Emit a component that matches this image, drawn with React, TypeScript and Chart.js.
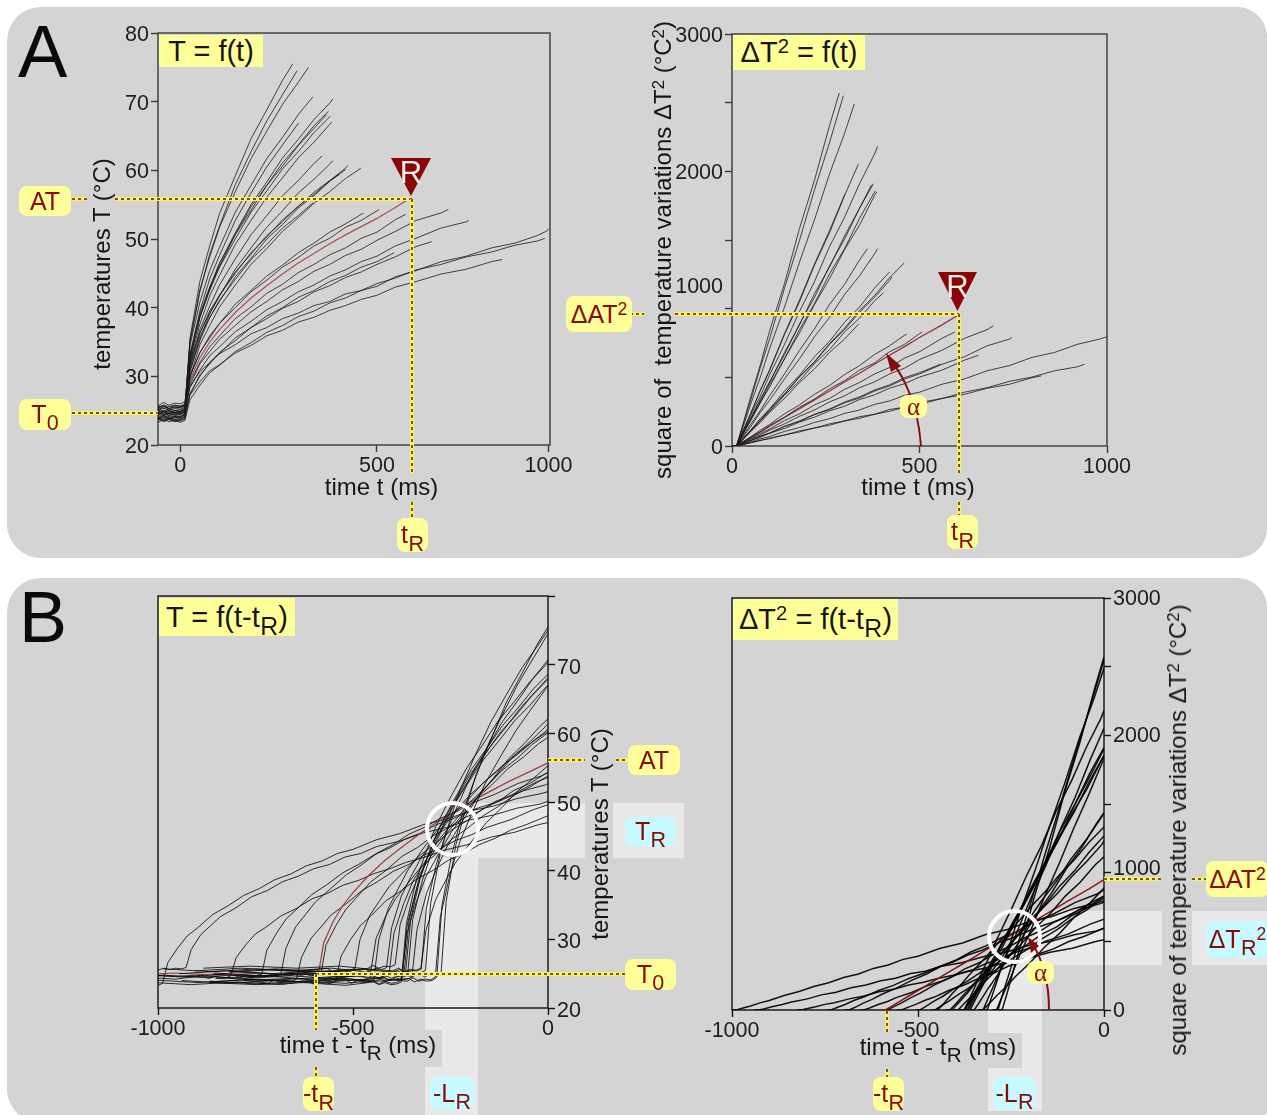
import React, { useEffect, useRef } from "react";
import { Chart, registerables, LinearScale } from "chart.js";

// ---- values ----
const timeGridMs = [0, 12, 25, 50, 75, 100, 140, 180, 220, 260, 300, 340, 380, 420, 460, 500, 560, 620, 680, 740, 800, 860, 920, 980];
const endTimesMs = [286, 297, 326, 337, 388, 301, 377, 372, 381, 386, 361, 388, 426, 420, 459, 404, 338, 466, 507, 600, 594, 697, 746, 657, 556, 1000, 940, 825];
const redCurveIndex = 19;

const curve01 = [24.8, 25.2, 35.6, 43.8, 49.0, 53.7, 59.2, 64.6, 68.8, 73.1, 75.5];
const curve02 = [24.0, 24.5, 34.9, 42.3, 47.8, 51.9, 57.9, 62.7, 67.2, 71.0, 74.5];
const curve03 = [25.1, 25.5, 35.2, 42.6, 47.4, 51.7, 56.9, 61.7, 65.7, 69.6, 72.8, 75.0];
const curve04 = [25.4, 25.7, 34.5, 40.8, 45.4, 48.8, 53.9, 57.8, 61.7, 64.8, 68.1, 70.7];
const curve05 = [23.7, 24.1, 32.3, 38.6, 42.7, 46.4, 50.9, 55.0, 58.3, 61.8, 64.5, 67.4, 69.8, 70.4];
const curve06 = [24.1, 24.5, 33.3, 39.5, 44.2, 47.6, 52.7, 56.7, 60.5, 63.7, 66.9];
const curve07 = [24.9, 25.3, 33.0, 39.1, 43.0, 46.5, 50.7, 54.7, 57.8, 61.1, 63.7, 66.5, 68.6];
const curve08 = [24.5, 24.8, 32.9, 38.6, 42.9, 46.0, 50.6, 54.2, 57.8, 60.6, 63.6, 66.1, 68.1];
const curve09 = [24.8, 25.1, 32.8, 38.7, 42.5, 45.9, 50.0, 53.9, 57.0, 60.2, 62.7, 65.5, 67.8, 67.9];
const curve10 = [24.0, 24.4, 32.1, 37.6, 41.7, 44.7, 49.2, 52.7, 56.1, 58.9, 61.8, 64.1, 66.7, 67.0];
const curve11 = [24.2, 24.5, 31.4, 36.8, 40.2, 43.3, 47.1, 50.6, 53.4, 56.3, 58.5, 61.0, 62.1];
const curve12 = [23.5, 23.8, 30.6, 35.4, 39.1, 41.7, 45.6, 48.7, 51.7, 54.1, 56.7, 58.7, 60.9, 61.4];
const curve13 = [25.6, 25.9, 31.7, 36.3, 39.2, 41.8, 45.0, 48.0, 50.3, 52.8, 54.7, 56.8, 58.5, 60.3, 60.7];
const curve14 = [24.5, 24.8, 30.9, 35.2, 38.6, 40.9, 44.5, 47.2, 50.0, 52.1, 54.5, 56.3, 58.4, 60.1];
const curve15 = [23.8, 24.1, 29.9, 34.6, 37.4, 40.1, 43.3, 46.3, 48.6, 51.1, 53.1, 55.2, 56.9, 58.8, 60.3];
const curve16 = [26.0, 26.3, 32.2, 36.3, 39.5, 41.8, 45.2, 47.8, 50.5, 52.5, 54.8, 56.5, 58.5, 59.4];
const curve17 = [25.5, 25.8, 31.3, 35.8, 38.5, 41.1, 44.1, 47.0, 49.2, 51.6, 53.4, 55.3];
const curve18 = [25.2, 25.5, 30.1, 33.4, 35.9, 37.7, 40.5, 42.5, 44.6, 46.2, 48.0, 49.4, 51.0, 52.2, 53.6, 53.7];
const curve19 = [25.5, 25.8, 30.0, 33.5, 35.6, 37.7, 40.0, 42.3, 44.0, 45.9, 47.3, 49.0, 50.1, 51.7, 52.7, 54.1, 54.3];
const curve20 = [24.9, 25.2, 29.5, 32.7, 35.0, 36.8, 39.3, 41.4, 43.2, 44.9, 46.5, 47.9, 49.3, 50.6, 51.8, 53.0, 54.6, 55.7];
const curve21 = [24.8, 25.1, 29.2, 32.0, 34.3, 35.9, 38.4, 40.1, 42.1, 43.4, 45.1, 46.3, 47.7, 48.7, 50.1, 51.0, 52.8, 53.6];
const curve22 = [24.7, 25.0, 28.7, 31.8, 33.6, 35.4, 37.4, 39.4, 40.9, 42.6, 43.8, 45.3, 46.3, 47.6, 48.5, 49.8, 51.1, 52.7, 53.8, 54.3];
const curve23 = [24.6, 24.9, 28.4, 30.9, 33.0, 34.3, 36.5, 38.0, 39.7, 40.9, 42.3, 43.3, 44.6, 45.5, 46.7, 47.5, 49.0, 50.1, 51.6, 52.5, 52.7];
const curve24 = [23.9, 24.2, 27.4, 30.2, 31.8, 33.5, 35.2, 37.1, 38.4, 39.9, 40.9, 42.3, 43.2, 44.4, 45.2, 46.3, 47.4, 48.9, 49.6];
const curve25 = [23.6, 23.9, 27.5, 30.0, 32.0, 33.3, 35.6, 37.1, 38.8, 40.0, 41.5, 42.5, 43.8, 44.7, 45.9, 46.7, 48.0];
const curve26 = [23.3, 23.6, 26.6, 28.7, 30.5, 31.6, 33.6, 34.9, 36.4, 37.4, 38.7, 39.5, 40.7, 41.4, 42.5, 43.1, 44.5, 45.4, 46.7, 47.5, 48.7, 49.4, 50.5, 51.2, 51.5];
const curve27 = [25.7, 25.9, 28.5, 30.7, 32.0, 33.3, 34.6, 36.2, 37.1, 38.4, 39.2, 40.3, 40.9, 42.0, 42.5, 43.5, 44.3, 45.5, 46.3, 47.4, 48.1, 49.1, 49.7, 50.1];
const curve28 = [24.4, 24.7, 27.3, 29.2, 30.8, 31.7, 33.4, 34.5, 35.9, 36.7, 37.9, 38.6, 39.6, 40.3, 41.2, 41.8, 43.0, 43.8, 44.9, 45.6, 46.7, 47.0];
const allTemps = [curve01, curve02, curve03, curve04, curve05, curve06, curve07, curve08, curve09, curve10, curve11, curve12, curve13, curve14, curve15, curve16, curve17, curve18, curve19, curve20, curve21, curve22, curve23, curve24, curve25, curve26, curve27, curve28];

// temperature before the stimulus, one row per curve
const preTimesMs = [-480, -360, -240, -130, -60, -45, -30, -15];
const preTemps = [
  [24.6, 25.0, 24.5, 25.1, 24.6, 25.1, 24.5, 25.0],
  [24.2, 23.8, 24.3, 23.9, 24.3, 23.8, 24.2, 23.9],
  [25.3, 24.9, 25.4, 25.0, 25.4, 24.9, 25.3, 25.0],
  [25.2, 25.6, 25.2, 25.7, 25.1, 25.6, 25.2, 25.5],
  [23.9, 23.5, 23.9, 23.6, 24.0, 23.5, 23.9, 23.6],
  [24.0, 24.3, 23.9, 24.3, 23.9, 24.4, 23.9, 24.2],
  [25.1, 24.7, 25.1, 24.6, 25.2, 24.7, 25.1, 24.7],
  [24.3, 24.7, 24.2, 24.7, 24.3, 24.8, 24.3, 24.6],
  [24.9, 24.6, 25.0, 24.6, 25.1, 24.6, 25.0, 24.7],
  [23.8, 24.2, 23.8, 24.3, 23.8, 24.2, 23.9, 24.2],
  [24.4, 24.0, 24.4, 24.0, 24.5, 24.0, 24.4, 24.1],
  [23.7, 23.4, 23.7, 23.3, 23.8, 23.4, 23.7, 23.4],
  [25.4, 25.8, 25.4, 25.8, 25.4, 25.7, 25.3, 25.8],
  [24.7, 24.3, 24.7, 24.3, 24.8, 24.3, 24.7, 24.4],
  [24.0, 23.6, 24.0, 23.7, 24.1, 23.6, 24.0, 23.7],
  [25.8, 26.1, 25.8, 26.1, 25.7, 26.2, 25.8, 26.1],
  [25.3, 25.7, 25.3, 25.7, 25.4, 25.8, 25.3, 25.6],
  [25.0, 25.4, 25.0, 25.4, 25.1, 25.4, 25.0, 25.3],
  [25.7, 25.3, 25.7, 25.3, 25.8, 25.3, 25.6, 25.4],
  [24.7, 25.1, 24.8, 25.1, 24.7, 25.0, 24.8, 25.0],
  [25.0, 24.6, 25.0, 24.6, 25.1, 24.6, 25.0, 24.7],
  [24.5, 24.9, 24.5, 24.9, 24.4, 24.9, 24.5, 24.8],
  [24.8, 24.4, 24.8, 24.4, 24.9, 24.4, 24.8, 24.5],
  [23.7, 24.1, 23.7, 24.1, 23.6, 24.1, 23.7, 24.0],
  [23.8, 23.4, 23.8, 23.4, 23.9, 23.5, 23.8, 23.5],
  [23.5, 23.7, 23.3, 23.6, 23.3, 23.7, 23.4, 23.6],
  [25.5, 25.9, 25.5, 25.9, 25.5, 25.8, 25.6, 25.8],
  [24.6, 24.2, 24.6, 24.2, 24.7, 24.3, 24.6, 24.3],
];

const tempTicks = [20, 30, 40, 50, 60, 70, 80];
const squareTicks = [0, 500, 1000, 1500, 2000, 2500, 3000];
const timeTicksAbs = [0, 500, 1000];
const timeTicksRel = [-1000, -500, 0];
const hiddenLabels = [80];

// the time axis of the first plot is not regular in the reference: tick 500 sits right of the middle
const bentFromMs = [0, 500, 600, 825, 940, 1000];
const bentToMs = [0, 532, 615, 870, 986, 996];

class BentTimeScale extends LinearScale {
  static id = "bentTime";
  static defaults = LinearScale.defaults;
  getPixelForValue(v: number) {
    let w = v;
    for (let i = 1; i < bentFromMs.length; i++) {
      if (v >= bentFromMs[i - 1] && v <= bentFromMs[i]) {
        const f = (v - bentFromMs[i - 1]) / (bentFromMs[i] - bentFromMs[i - 1]);
        w = bentToMs[i - 1] + f * (bentToMs[i] - bentToMs[i - 1]);
      }
    }
    return super.getPixelForValue(w);
  }
}

// y axis whose tick texts sit a little off their tick marks, as in the reference
class OffsetLabelScale extends LinearScale {
  static id = "offsetLabel";
  static defaults = LinearScale.defaults;
  _computeLabelItems(area: any) {
    const items = super._computeLabelItems(area);
    const o: any = this.options;
    items.forEach((it: any) => {
      it.textOffset += o.labelShift || 0;
      if (it.label === "1000") it.textOffset += o.thousandShift || 0;
    });
    return items;
  }
}
Chart.register(...registerables, BentTimeScale, OffsetLabelScale);

const FONT = '"Liberation Sans", Arial, sans-serif';
const DARKRED = "#860b0b";
const YELLOW = "#ffff99";
const CYAN = "#c8fbff";
const PANEL = "#d4d4d4";
const BAND = "#e9e9e9";

// the two measured quantities of one curve
function samples(i: number) {
  const temps = allTemps[i];
  return temps.map((T, k) => ({ t: k === temps.length - 1 ? endTimesMs[i] : timeGridMs[k], T }));
}
function before(i: number) {
  return preTimesMs.map((t, k) => ({ t, T: preTemps[i][k] }));
}
const seriesA1 = allTemps.map((_, i) => [...before(i), ...samples(i)].map((p) => ({ x: p.t, y: p.T })));
const seriesA2 = allTemps.map((_, i) => samples(i).map((p) => ({ x: p.t, y: (p.T - allTemps[i][0]) ** 2 })));
const seriesB1 = allTemps.map((_, i) => [...before(i), ...samples(i)].map((p) => ({ x: p.t - endTimesMs[i], y: p.T })));
const seriesB2 = allTemps.map((_, i) => samples(i).map((p) => ({ x: p.t - endTimesMs[i], y: (p.T - allTemps[i][0]) ** 2 })));

const framePlugin = {
  id: "frame",
  beforeDatasetsDraw(chart: any, _a: any, opts: any) {
    const { left, top, width, height } = chart.chartArea;
    const c = chart.ctx;
    c.save();
    c.strokeStyle = opts.color;
    c.lineWidth = opts.width;
    c.strokeRect(left, top, width, height);
    c.restore();
  },
};

type PlotDef = {
  key: string; left: number; right: number; top: number; bottom: number; yRight: boolean;
  series: { x: number; y: number }[][]; xType: string; xMin: number; xMax: number; xTicks: number[];
  yMin: number; yMax: number; yTicks: number[]; yMajor: number; line: string; red: string; lineW: number; frame: string;
  labelShift: number; thousandShift: number;
};

const plots: PlotDef[] = [
  { key: "a1", left: 158, right: 550, top: 33, bottom: 445, yRight: false, series: seriesA1, xType: "bentTime", xMin: -60, xMax: 1000, xTicks: timeTicksAbs, yMin: 20, yMax: 80, yTicks: tempTicks, yMajor: 10, line: "rgba(25,25,25,0.8)", red: "#a05252", lineW: 1, frame: "#3a3a3a", labelShift: 2, thousandShift: 0 },
  { key: "a2", left: 732, right: 1107, top: 34, bottom: 446, yRight: false, series: seriesA2, xType: "linear", xMin: 0, xMax: 1000, xTicks: timeTicksAbs, yMin: 0, yMax: 3000, yTicks: squareTicks, yMajor: 1000, line: "rgba(25,25,25,0.8)", red: "#963030", lineW: 1, frame: "#3a3a3a", labelShift: 2, thousandShift: -24 },
  { key: "b1", left: 158, right: 548, top: 596, bottom: 1008, yRight: true, series: seriesB1, xType: "linear", xMin: -1000, xMax: 0, xTicks: timeTicksRel, yMin: 20, yMax: 80, yTicks: tempTicks, yMajor: 10, line: "rgba(10,10,10,0.85)", red: "#984040", lineW: 1, frame: "#111", labelShift: 3, thousandShift: 0 },
  { key: "b2", left: 732, right: 1104, top: 598, bottom: 1010, yRight: true, series: seriesB2, xType: "linear", xMin: -1000, xMax: 0, xTicks: timeTicksRel, yMin: 0, yMax: 3000, yTicks: squareTicks, yMajor: 1000, line: "rgba(0,0,0,0.92)", red: "#8b1414", lineW: 1.5, frame: "#111", labelShift: 1, thousandShift: -5 },
];

const PAD_AXIS = 75;
const PAD_OTHER = 45;
const PAD_TOP = 16;
const PAD_BOTTOM = 50;

function buildChart(canvas: HTMLCanvasElement, p: PlotDef) {
  const tickFont = { family: FONT, size: 21.5 };
  const setTicks = (vals: number[]) => (s: any) => {
    s.ticks = vals.map((value) => ({ value }));
  };
  return new Chart(canvas, {
    type: "line",
    data: {
      datasets: p.series.map((data, i) => ({
        data,
        parsing: false,
        borderColor: i === redCurveIndex ? p.red : p.line,
        borderWidth: i === redCurveIndex ? Math.max(p.lineW, 1.2) : p.lineW,
        pointRadius: 0,
        tension: 0,
        fill: false,
      })),
    },
    options: {
      responsive: false,
      animation: false,
      layout: {
        padding: { top: PAD_TOP, left: p.yRight ? PAD_OTHER : 0, right: p.yRight ? 0 : PAD_OTHER, bottom: 0 },
      },
      plugins: { legend: { display: false }, tooltip: { enabled: false }, frame: { color: p.frame, width: 1.4 } },
      scales: {
        x: {
          type: p.xType,
          min: p.xMin,
          max: p.xMax,
          afterBuildTicks: setTicks(p.xTicks),
          afterFit: (s: any) => { s.height = PAD_BOTTOM; },
          border: { display: false },
          grid: { drawOnChartArea: false, drawTicks: true, tickLength: 7, tickColor: p.frame, tickWidth: 1.4 },
          ticks: { font: tickFont, color: "#1c1c1c", padding: 1, maxRotation: 0, autoSkip: false, callback: (v: any) => String(v) },
        },
        y: {
          type: "offsetLabel",
          labelShift: p.labelShift,
          thousandShift: p.thousandShift,
          position: p.yRight ? "right" : "left",
          min: p.yMin,
          max: p.yMax,
          afterBuildTicks: setTicks(p.yTicks),
          afterFit: (s: any) => { s.width = PAD_AXIS; },
          border: { display: false },
          grid: { drawOnChartArea: false, drawTicks: true, tickLength: 7, tickColor: p.frame, tickWidth: 1.4 },
          ticks: {
            font: tickFont,
            color: "#1c1c1c",
            padding: 2,
            autoSkip: false,
            callback: (v: any) => (Number(v) % p.yMajor === 0 && !(p.yRight && hiddenLabels.includes(Number(v))) ? String(v) : ""),
          },
        },
      },
    } as any,
    plugins: [framePlugin],
  } as any);
}

const abs = (x: number, y: number, w: number, h: number, extra: any = {}) => ({ position: "absolute", left: x, top: y, width: w, height: h, ...extra } as React.CSSProperties);

function Sub({ c }: { c: string }) {
  return <span style={{ fontSize: "0.86em", position: "relative", top: "0.34em", marginLeft: "0.02em" }}>{c}</span>;
}
function Sup({ c }: { c: string }) {
  return <span style={{ fontSize: "0.7em", position: "relative", top: "-0.42em" }}>{c}</span>;
}

function Tag({ x1, x2, y1, y2, bg = YELLOW, size = 25, children }: any) {
  return (
    <div style={abs(x1, y1, x2 - x1, y2 - y1, { background: bg, borderRadius: 8, color: DARKRED, fontFamily: FONT, fontSize: size, display: "flex", alignItems: "center", justifyContent: "center", whiteSpace: "nowrap", lineHeight: 1 })}>
      <span>{children}</span>
    </div>
  );
}

function Title({ x1, x2, y1, y2, children }: any) {
  return (
    <div style={abs(x1, y1, x2 - x1, y2 - y1, { background: YELLOW, color: "#161616", fontFamily: FONT, fontSize: 29, display: "flex", alignItems: "center", justifyContent: "center", whiteSpace: "nowrap", lineHeight: 1 })}>
      <span>{children}</span>
    </div>
  );
}

function AxisText({ cx, cy, rotate = false, children }: any) {
  return (
    <div style={{ position: "absolute", left: cx, top: cy, transform: `translate(-50%,-50%)${rotate ? " rotate(-90deg)" : ""}`, fontFamily: FONT, fontSize: 24, color: "#161616", whiteSpace: "pre", lineHeight: 1 }}>
      {children}
    </div>
  );
}

function HDots({ x1, x2, y }: { x1: number; x2: number; y: number }) {
  return <div style={abs(x1, y - 2, x2 - x1, 4, { background: "repeating-linear-gradient(90deg,#6a5a20 0 3px,#ffef62 3px 6px)", borderTop: "1px solid #ffef62", borderBottom: "1px solid #ffef62", boxSizing: "border-box" })} />;
}
function VDots({ x, y1, y2 }: { x: number; y1: number; y2: number }) {
  return <div style={abs(x - 2, y1, 4, y2 - y1, { background: "repeating-linear-gradient(180deg,#6a5a20 0 3px,#ffef62 3px 6px)", borderLeft: "1px solid #ffef62", borderRight: "1px solid #ffef62", boxSizing: "border-box" })} />;
}

function Triangle({ x1, x2, top, apexY }: any) {
  const mid = (x1 + x2) / 2;
  return (
    <>
      <div style={abs(x1, top, x2 - x1, apexY - top, { background: "#8b0505", clipPath: "polygon(0 0,100% 0,50% 100%)" })} />
      <div style={{ position: "absolute", left: mid, top: top + 14, transform: "translate(-50%,-50%)", color: "#f4eeee", fontFamily: FONT, fontSize: 31, lineHeight: 1 }}>R</div>
    </>
  );
}

function Ring({ x1, x2, y1, y2 }: any) {
  return <div style={abs(x1, y1, x2 - x1, y2 - y1, { border: "4.5px solid #fff", borderRadius: "50%", boxSizing: "border-box" })} />;
}

export default function App() {
  const refs = useRef<(HTMLCanvasElement | null)[]>([]);
  useEffect(() => {
    const charts = plots.map((p, i) => buildChart(refs.current[i] as HTMLCanvasElement, p));
    return () => charts.forEach((c) => c.destroy());
  }, []);

  return (
    <div style={{ position: "fixed", left: 0, top: 0, width: 1267, height: 1115, overflow: "hidden", background: "#fff" }}>
      {/* panels */}
      <div style={abs(7, 7, 1270, 551, { background: PANEL, borderRadius: 34 })} />
      <div style={abs(7, 578, 1270, 545, { background: PANEL, borderRadius: 34 })} />
      <div style={abs(1237, 7, 30, 30, { background: `radial-gradient(circle at 0 100%, ${PANEL} 29.5px, #fff 30.5px)` })} />
      <div style={abs(1237, 578, 30, 30, { background: `radial-gradient(circle at 0 100%, ${PANEL} 29.5px, #fff 30.5px)` })} />
      <div style={abs(1237, 528, 30, 30, { background: `radial-gradient(circle at 0 0, ${PANEL} 29.5px, #fff 30.5px)` })} />

      {/* pale bands behind panel B */}
      <div style={abs(425, 858, 53, 257, { background: BAND })} />
      <div style={abs(452, 803, 133, 55, { background: BAND })} />
      <div style={abs(613, 803, 71, 55, { background: BAND })} />
      <div style={abs(988, 965, 54, 146, { background: BAND })} />
      <div style={abs(1014, 911, 148, 54, { background: BAND })} />
      <div style={abs(1192, 911, 75, 54, { background: BAND })} />
      {/* grey patches that keep the axis titles legible over the bands */}
      <div style={abs(275, 1030, 167, 37, { background: PANEL })} />
      <div style={abs(855, 1033, 167, 35, { background: PANEL })} />

      {/* charts */}
      {plots.map((p, i) => {
        const w = PAD_AXIS + PAD_OTHER + (p.right - p.left);
        const h = PAD_TOP + PAD_BOTTOM + (p.bottom - p.top);
        const x = p.yRight ? p.left - PAD_OTHER : p.left - PAD_AXIS;
        return (
          <canvas
            key={p.key}
            ref={(el) => { refs.current[i] = el; }}
            width={w}
            height={h}
            style={{ position: "absolute", left: x, top: p.top - PAD_TOP, width: w, height: h }}
          />
        );
      })}

      {/* panel letters */}
      <div style={{ position: "absolute", left: 18, top: 12, fontFamily: FONT, fontSize: 74, lineHeight: "80px", color: "#0a0a0a" }}>A</div>
      <div style={{ position: "absolute", left: 19, top: 577, fontFamily: FONT, fontSize: 72, lineHeight: "80px", color: "#0a0a0a" }}>B</div>

      {/* axis titles */}
      <AxisText cx={102} cy={264} rotate>temperatures T (°C)</AxisText>
      <AxisText cx={381.5} cy={487}>time t (ms)</AxisText>
      <AxisText cx={662.5} cy={250} rotate>square of  temperature variations ΔT<Sup c="2" /> (°C<Sup c="2" />)</AxisText>
      <AxisText cx={918} cy={487}>time t (ms)</AxisText>
      <AxisText cx={358} cy={1045}>time t - t<Sub c="R" /> (ms)</AxisText>
      <AxisText cx={600} cy={834} rotate>temperatures T (°C)</AxisText>
      <AxisText cx={938} cy={1047}>time t - t<Sub c="R" /> (ms)</AxisText>
      <AxisText cx={1178} cy={830} rotate>square of temperature variations ΔT<Sup c="2" /> (°C<Sup c="2" />)</AxisText>

      {/* plot titles */}
      <Title x1={159} x2={263} y1={35} y2={67}>T = f(t)</Title>
      <Title x1={733} x2={865} y1={35} y2={70}>ΔT<Sup c="2" /> = f(t)</Title>
      <Title x1={159} x2={295} y1={598} y2={636}>T = f(t-t<Sub c="R" />)</Title>
      <Title x1={733} x2={898} y1={599} y2={640}>ΔT<Sup c="2" /> = f(t-t<Sub c="R" />)</Title>

      {/* dotted guides */}
      <HDots x1={72} x2={87} y={199} />
      <HDots x1={115} x2={412} y={199} />
      <HDots x1={72} x2={158} y={413} />
      <VDots x={412} y1={199} y2={473} />
      <VDots x={412} y1={502} y2={518} />
      <HDots x1={630} x2={644} y={314} />
      <HDots x1={675} x2={959} y={314} />
      <VDots x={959} y1={314} y2={473} />
      <VDots x={959} y1={502} y2={515} />
      <HDots x1={548} x2={585} y={760} />
      <HDots x1={616} x2={628} y={760} />
      <HDots x1={316} x2={625} y={974} />
      <VDots x={316} y1={974} y2={1030} />
      <VDots x={316} y1={1067} y2={1077} />
      <HDots x1={1104} x2={1161} y={879} />
      <HDots x1={1192} x2={1206} y={879} />
      <VDots x={887} y1={1011} y2={1032} />
      <VDots x={887} y1={1069} y2={1077} />

      {/* markers */}
      <Triangle x1={391} x2={431} top={158} apexY={196} />
      <Triangle x1={938} x2={977} top={272} apexY={311} />
      <Ring x1={425} x2={480} y1={801} y2={857} />
      <Ring x1={987} x2={1042} y1={909} y2={964} />

      {/* angle arrows */}
      <svg width={1267} height={1115} style={{ position: "absolute", left: 0, top: 0 }}>
        <path d="M921 446 Q917 392 889 358" fill="none" stroke={DARKRED} strokeWidth={2} />
        <polygon points="886,353 901,366 891,372" fill={DARKRED} />
        <path d="M1049 1010 Q1049 970 1032 943" fill="none" stroke={DARKRED} strokeWidth={2} />
        <polygon points="1028,937 1039,946 1031,953" fill={DARKRED} />
      </svg>

      {/* yellow and blue tags */}
      <Tag x1={19} x2={71} y1={186} y2={216}>AT</Tag>
      <Tag x1={19} x2={71} y1={399} y2={430}>T<Sub c="0" /></Tag>
      <Tag x1={397} x2={428} y1={518} y2={552}>t<Sub c="R" /></Tag>
      <Tag x1={566} x2={632} y1={296} y2={332}>ΔAT<Sup c="2" /></Tag>
      <Tag x1={900} x2={927} y1={395} y2={418}><span style={{ fontFamily: '"Liberation Serif", serif' }}>α</span></Tag>
      <Tag x1={947} x2={978} y1={515} y2={549}>t<Sub c="R" /></Tag>
      <Tag x1={628} x2={680} y1={745} y2={775}>AT</Tag>
      <Tag x1={625} x2={676} y1={959} y2={990}>T<Sub c="0" /></Tag>
      <Tag x1={625} x2={676} y1={817} y2={846} bg={CYAN}>T<Sub c="R" /></Tag>
      <Tag x1={303} x2={334} y1={1077} y2={1111}>-t<Sub c="R" /></Tag>
      <Tag x1={430} x2={474} y1={1077} y2={1110} bg={CYAN}>-L<Sub c="R" /></Tag>
      <Tag x1={1206} x2={1269} y1={861} y2={897}>ΔAT<Sup c="2" /></Tag>
      <Tag x1={1206} x2={1269} y1={921} y2={958} bg={CYAN}>ΔT<Sub c="R" /><Sup c="2" /></Tag>
      <Tag x1={1027} x2={1054} y1={961} y2={984}><span style={{ fontFamily: '"Liberation Serif", serif' }}>α</span></Tag>
      <Tag x1={873} x2={904} y1={1077} y2={1111}>-t<Sub c="R" /></Tag>
      <Tag x1={993} x2={1036} y1={1077} y2={1110} bg={CYAN}>-L<Sub c="R" /></Tag>
    </div>
  );
}
